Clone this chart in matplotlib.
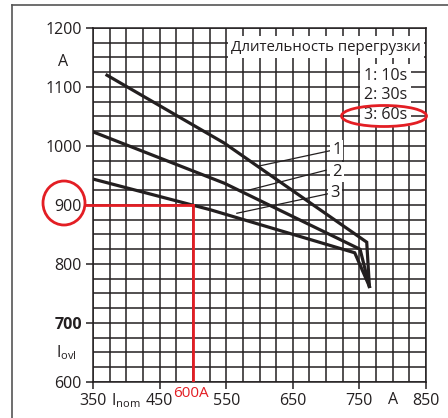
import matplotlib
matplotlib.use("Agg")
import matplotlib.pyplot as plt
from matplotlib.patches import Ellipse
from matplotlib.transforms import blended_transform_factory

plt.rcParams["font.family"] = ["Open Sans", "DejaVu Sans"]

# -----------------------------
# Data
# -----------------------------
curve1_x = [371, 547, 761, 765]
curve1_y = [1120, 1005, 837, 762]
curve2_x = [350, 547, 751, 765]
curve2_y = [1024, 937, 825, 762]
curve3_x = [350, 526, 743, 765]
curve3_y = [944, 892, 819, 762]

curve_labels = ["1", "2", "3"]
legend_title = "Длительность перегрузки"
legend_items = ["1: 10s", "2: 30s", "3: 60s"]

x_ticks = [350, 450, 550, 650, 750, 850]
y_ticks = [600, 700, 800, 900, 1000, 1100, 1200]

mark_i_ovl = 900
mark_i_nom = 500
mark_label = "600A"

INK = "#231f20"
RED = "#e31e24"

fig = plt.figure(figsize=(4.48, 4.18), dpi=100)
ax = fig.add_axes([93 / 448, 1 - 382 / 418, 333 / 448, 354 / 418])

# grid every 25 A
for gx in range(350, 851, 25):
    ax.axvline(gx, color=INK, lw=1.1, zorder=1)
for gy in range(600, 1201, 25):
    ax.axhline(gy, color=INK, lw=1.1, zorder=1)

ax.set_xlim(350, 850)
ax.set_ylim(600, 1200)
for s in ax.spines.values():
    s.set_color(INK)
    s.set_linewidth(1.1)

ax.set_xticks(x_ticks)
ax.set_xticklabels([str(v) for v in x_ticks])
ax.set_yticks(y_ticks)
ax.set_yticklabels([str(v) for v in y_ticks])
ax.tick_params(direction="out", length=5, width=1.1, color=INK,
               labelsize=11.5, labelcolor=INK, pad=3)
for lab in ax.get_yticklabels():
    if lab.get_text() == "700":
        lab.set_fontweight("bold")

# axis unit labels
tx = blended_transform_factory(ax.transData, ax.transAxes)
ax.text(400, -0.027, "I$_{\\mathregular{nom}}$", transform=tx, ha="center", va="top",
        fontsize=11.5, color=INK)
ax.text(800, -0.027, "A", transform=tx, ha="center", va="top", fontsize=11.5, color=INK)
ty = blended_transform_factory(ax.transAxes, ax.transData)
ax.text(-0.09, 1142, "A", transform=ty, ha="center", va="center", fontsize=11.5, color=INK)
ax.text(-0.08, 650, "I$_{\\mathregular{ovl}}$", transform=ty, ha="center", va="center",
        fontsize=11.5, color=INK)

# curves
for cx, cy in [(curve1_x, curve1_y), (curve2_x, curve2_y), (curve3_x, curve3_y)]:
    ax.plot(cx, cy, color=INK, lw=2.3, solid_joinstyle="miter", zorder=3)

# leader lines + curve numbers
leaders = [((599, 966), (706, 992)), ((583, 925), (700, 959)), ((566, 886), (703, 919))]
label_pos = [(716, 993), (716, 956), (713, 920)]
for (p0, p1), (lx, ly), txt in zip(leaders, label_pos, curve_labels):
    ax.plot([p0[0], p1[0]], [p0[1], p1[1]], color=INK, lw=0.9, zorder=3)
    ax.text(lx, ly, txt, ha="center", va="center", fontsize=12, color=INK, zorder=4,
            bbox=dict(facecolor="white", edgecolor="none", pad=1.5))

# legend boxes
ax.text(0.985, 0.946, legend_title, transform=ax.transAxes, ha="right", va="center",
        fontsize=10.8, color=INK, zorder=5,
        bbox=dict(facecolor="white", edgecolor="none", pad=2.5))
ax.text(0.943, 0.81, "\n".join(legend_items), transform=ax.transAxes, ha="right",
        va="center", fontsize=11.5, color=INK, zorder=5, linespacing=1.3,
        bbox=dict(facecolor="white", edgecolor="none", pad=2.5))

# red markers
ax.plot([mark_i_nom, mark_i_nom], [600, mark_i_ovl], color=RED, lw=2, zorder=4)
ax.plot([338, mark_i_nom], [mark_i_ovl, mark_i_ovl], color=RED, lw=2, zorder=4,
        clip_on=False)
ax.text(mark_i_nom - 3, -0.01, mark_label, transform=tx, ha="center", va="top",
        fontsize=11, color=RED)
fig.patches.append(Ellipse((64 / 448, 1 - 203 / 418), 42 / 448, 44 / 418,
                           transform=fig.transFigure, fill=False, edgecolor=RED, lw=2))
fig.patches.append(Ellipse((384 / 448, 1 - 116 / 418), 85 / 448, 21 / 418,
                           transform=fig.transFigure, fill=False, edgecolor=RED, lw=2,
                           zorder=6))

# outer frame (left and top only)
fig.add_artist(plt.Line2D([12 / 448, 12 / 448], [0, 1 - 5 / 418], color="#555555",
                          lw=1.2, transform=fig.transFigure))
fig.add_artist(plt.Line2D([12 / 448, 1], [1 - 5 / 418, 1 - 5 / 418], color="#555555",
                          lw=1.2, transform=fig.transFigure))

fig.savefig("out.png", dpi=100)
